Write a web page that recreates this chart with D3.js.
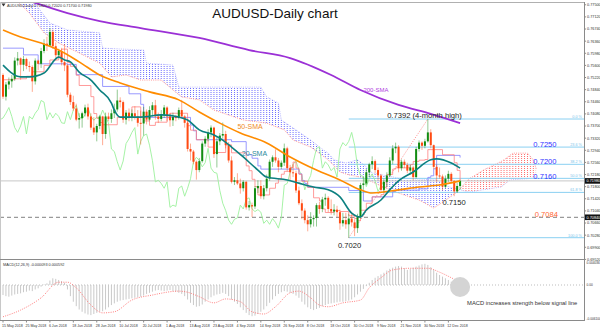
<!DOCTYPE html>
<html>
<head>
<meta charset="utf-8">
<script src="https://cdn.jsdelivr.net/npm/d3@7"></script>
<style>
  body { margin: 0; background: #fff; }
  svg { display: block; font-family: "Liberation Sans", Arial, sans-serif; }
</style>
</head>
<body>
<svg id="chart" width="600" height="329"></svg>
<script>
// ---- data ----
const dateLabels = ["15 May 2018", "25 May 2018", "6 Jun 2018", "18 Jun 2018", "28 Jun 2018", "10 Jul 2018",
  "20 Jul 2018", "1 Aug 2018", "13 Aug 2018", "23 Aug 2018", "4 Sep 2018", "14 Sep 2018", "26 Sep 2018",
  "8 Oct 2018", "18 Oct 2018", "30 Oct 2018", "9 Nov 2018", "21 Nov 2018", "30 Nov 2018", "12 Dec 2018"];
const dateLabelBars = [0, 8, 16, 24, 32, 40, 48, 56, 64, 72, 80, 88, 96, 104, 112, 120, 128, 136, 144, 152];

// daily candles [open, high, low, close]
const candles = [
  [.7530,.7535,.7455,.7462],[.7462,.7508,.7450,.7500],[.7500,.7522,.7485,.7510],[.7510,.7530,.7490,.7518],
  [.7518,.7585,.7512,.7575],[.7575,.7602,.7560,.7582],[.7582,.7585,.7515,.7562],[.7562,.7590,.7542,.7580],
  [.7580,.7584,.7548,.7558],[.7558,.7572,.7540,.7555],[.7555,.7560,.7477,.7510],[.7510,.7582,.7500,.7575],
  [.7575,.7578,.7545,.7565],[.7565,.7615,.7552,.7605],[.7605,.7642,.7598,.7628],[.7628,.7650,.7605,.7622],
  [.7622,.7677,.7618,.7665],[.7665,.7672,.7612,.7620],[.7620,.7632,.7575,.7592],[.7592,.7612,.7585,.7605],
  [.7605,.7615,.7560,.7570],[.7570,.7627,.7542,.7560],[.7560,.7565,.7460,.7468],[.7468,.7475,.7436,.7445],
  [.7445,.7465,.7418,.7425],[.7425,.7440,.7385,.7390],[.7390,.7410,.7362,.7395],[.7395,.7415,.7365,.7410],
  [.7410,.7437,.7400,.7428],[.7428,.7440,.7390,.7400],[.7400,.7410,.7358,.7365],[.7365,.7398,.7342,.7350],
  [.7350,.7377,.7322,.7370],[.7370,.7405,.7360,.7400],[.7400,.7402,.7310,.7345],[.7345,.7412,.7330,.7400],
  [.7400,.7412,.7385,.7392],[.7392,.7422,.7380,.7410],[.7410,.7440,.7395,.7422],[.7422,.7484,.7415,.7450],
  [.7450,.7460,.7428,.7445],[.7445,.7450,.7380,.7390],[.7390,.7420,.7375,.7412],[.7412,.7425,.7385,.7395],
  [.7395,.7422,.7385,.7410],[.7410,.7432,.7390,.7400],[.7400,.7420,.7368,.7380],[.7380,.7418,.7312,.7378],
  [.7378,.7430,.7340,.7415],[.7415,.7422,.7375,.7390],[.7390,.7432,.7385,.7420],[.7420,.7445,.7400,.7435],
  [.7435,.7452,.7390,.7400],[.7400,.7412,.7380,.7392],[.7392,.7420,.7385,.7405],[.7405,.7436,.7395,.7428],
  [.7428,.7432,.7385,.7400],[.7400,.7410,.7368,.7388],[.7388,.7412,.7370,.7398],[.7398,.7405,.7385,.7395],
  [.7395,.7428,.7390,.7420],[.7420,.7452,.7395,.7400],[.7400,.7405,.7365,.7380],[.7380,.7385,.7290,.7298],
  [.7298,.7315,.7262,.7290],[.7290,.7295,.7250,.7258],[.7258,.7262,.7202,.7232],[.7232,.7270,.7225,.7260],
  [.7260,.7322,.7255,.7315],[.7315,.7338,.7305,.7330],[.7330,.7360,.7322,.7350],[.7350,.7372,.7335,.7365],
  [.7365,.7368,.7270,.7282],[.7282,.7335,.7240,.7322],[.7322,.7348,.7310,.7340],[.7340,.7381,.7330,.7345],
  [.7345,.7355,.7300,.7310],[.7310,.7320,.7255,.7262],[.7262,.7275,.7190,.7195],[.7195,.7210,.7185,.7200],
  [.7200,.7222,.7185,.7190],[.7190,.7205,.7158,.7175],[.7175,.7200,.7165,.7195],[.7195,.7198,.7108,.7115],
  [.7115,.7135,.7105,.7122],[.7122,.7130,.7085,.7118],[.7118,.7182,.7110,.7175],[.7175,.7200,.7160,.7182],
  [.7182,.7200,.7142,.7150],[.7150,.7185,.7140,.7175],[.7175,.7218,.7165,.7205],[.7205,.7265,.7198,.7258],
  [.7258,.7278,.7242,.7272],[.7272,.7297,.7255,.7262],[.7262,.7270,.7225,.7242],[.7242,.7262,.7235,.7255],
  [.7255,.7315,.7245,.7300],[.7300,.7305,.7228,.7238],[.7238,.7248,.7200,.7225],[.7225,.7250,.7210,.7222],
  [.7222,.7230,.7160,.7168],[.7168,.7180,.7122,.7128],[.7128,.7140,.7078,.7105],[.7105,.7112,.7065,.7075],
  [.7075,.7090,.7040,.7062],[.7062,.7100,.7052,.7078],[.7078,.7090,.7055,.7082],[.7082,.7128,.7055,.7122],
  [.7122,.7132,.7095,.7110],[.7110,.7148,.7100,.7140],[.7140,.7158,.7120,.7145],[.7145,.7150,.7100,.7110],
  [.7110,.7140,.7092,.7102],[.7102,.7125,.7090,.7108],[.7108,.7120,.7085,.7100],[.7100,.7108,.7045,.7065],
  [.7065,.7098,.7055,.7075],[.7075,.7098,.7048,.7062],[.7062,.7095,.7020,.7080],[.7080,.7098,.7055,.7068],
  [.7068,.7078,.7025,.7050],[.7050,.7095,.7035,.7085],[.7085,.7192,.7080,.7185],[.7185,.7210,.7170,.7190],
  [.7190,.7235,.7185,.7225],[.7225,.7255,.7210,.7250],[.7250,.7275,.7235,.7260],[.7260,.7265,.7222,.7232],
  [.7232,.7240,.7200,.7215],[.7215,.7220,.7164,.7170],[.7170,.7205,.7160,.7195],[.7195,.7225,.7180,.7215],
  [.7215,.7272,.7210,.7262],[.7262,.7310,.7250,.7300],[.7300,.7318,.7285,.7305],[.7305,.7310,.7225,.7238],
  [.7238,.7265,.7230,.7258],[.7258,.7265,.7238,.7248],[.7248,.7255,.7222,.7230],[.7230,.7248,.7218,.7240],
  [.7240,.7245,.7200,.7210],[.7210,.7305,.7205,.7298],[.7298,.7325,.7290,.7318],[.7318,.7322,.7295,.7308],
  [.7308,.7330,.7300,.7322],[.7322,.7392,.7318,.7350],[.7350,.7360,.7300,.7310],[.7310,.7312,.7235,.7242],
  [.7242,.7250,.7195,.7215],[.7215,.7240,.7205,.7212],[.7212,.7218,.7168,.7180],[.7180,.7215,.7175,.7205],
  [.7205,.7230,.7195,.7220],[.7220,.7225,.7190,.7198],[.7198,.7200,.7150,.7165],[.7165,.7192,.7160,.7182],
  [.7182,.7202,.7170,.7198]
];

// moving averages [bar, price]
const sma200 = [[0,.7790],[10,.7759],[22,.7724],[33,.7699],[47,.7677],[67,.7646],[84,.7608],[98,.7583],
  [112,.7530],[122,.7483],[135,.7436],[146,.7408],[156,.7379]];
const sma50 = [[0,.7671],[6,.7649],[13,.7630],[19,.7608],[26,.7571],[33,.7530],[40,.7505],[50,.7477],
  [60,.7452],[67,.7414],[74,.7379],[81,.7348],[90,.7317],[98,.7273],[107,.7232],[115,.7201],[122,.7170],
  [126,.7160],[135,.7170],[142,.7179],[149,.7185],[156,.7198]];
const sma20 = [[0,.7561],[6,.7524],[9,.7524],[14,.7536],[19,.7586],[21,.7577],[23,.7571],[26,.7539],
  [30,.7514],[33,.7483],[37,.7442],[38,.7420],[40,.7398],[47,.7398],[54,.7405],[60,.7398],[63,.7389],
  [67,.7358],[72,.7342],[75,.7326],[78,.7304],[82,.7273],[87,.7232],[90,.7210],[97,.7201],[101,.7191],
  [106,.7179],[111,.7170],[115,.7148],[119,.7097],[122,.7085],[124,.7107],[129,.7138],[132,.7170],
  [135,.7198],[140,.7226],[146,.7264],[148,.7267],[153,.7254],[156,.7238]];

// ichimoku lines [bar, price]
const tenkan = [[0,.7515],[4,.7518],[8,.7526],[10,.7540],[14,.7560],[16,.7577],[19,.7589],[20,.7611],
  [22,.7569],[23,.7557],[25,.7529],[26,.7497],[30,.7462],[31,.7409],[32,.7394],[33,.7381],[34,.7374],
  [39,.7397],[44,.7430],[47,.7398],[48,.7386],[50,.7372],[52,.7382],[56,.7396],[57,.7410],[63,.7371],
  [64,.7357],[66,.7327],[70,.7304],[72,.7287],[76,.7311],[78,.7286],[83,.7245],[84,.7230],[85,.7203],
  [86,.7180],[87,.7154],[91,.7175],[93,.7191],[94,.7204],[95,.7219],[96,.7228],[98,.7240],[99,.7257],
  [100,.7238],[101,.7219],[102,.7197],[104,.7178],[106,.7145],[108,.7135],[109,.7110],[110,.7099],
  [113,.7105],[115,.7102],[118,.7089],[120,.7080],[121,.7073],[122,.7106],[124,.7128],[126,.7148],
  [129,.7155],[130,.7178],[131,.7218],[133,.7235],[134,.7239],[139,.7249],[140,.7259],[142,.7263],
  [144,.7265],[145,.7296],[150,.7280],[154,.7255],[155,.7231],[156,.7200]];
const kijun = [[0,.7614],[7,.7593],[12,.7565],[22,.7563],[25,.7531],[34,.7494],[43,.7471],[47,.7438],
  [48,.7397],[64,.7373],[65,.7355],[66,.7327],[78,.7321],[83,.7280],[85,.7269],[87,.7245],[88,.7235],
  [101,.7220],[102,.7199],[103,.7190],[104,.7178],[118,.7168],[123,.7135],[126,.7148],[133,.7165],
  [134,.7169],[142,.7173],[145,.7209],[146,.7214],[147,.7236],[148,.7278],[156,.7271]];
const spanA = [[0,.7800],[5,.7760],[9,.7724],[14,.7662],[19,.7630],[26,.7599],[33,.7567],[37,.7524],
  [42,.7530],[47,.7514],[54,.7514],[58,.7483],[61,.7461],[67,.7452],[72,.7420],[82,.7389],[90,.7379],
  [96,.7358],[99,.7326],[105,.7304],[111,.7264],[115,.7226],[118,.7217],[122,.7210],[126,.7195],
  [130,.7178],[135,.7160],[142,.7138],[147,.7113],[150,.7131],[155,.7163],[159,.7204],[164,.7232],
  [169,.7254],[171,.7264],[174,.7285],[179,.7285],[181,.7264],[182,.7236]];
const spanB = [[0,.7850],[10,.7765],[16,.7693],[22,.7671],[33,.7662],[34,.7614],[48,.7608],[49,.7567],
  [58,.7561],[60,.7492],[88,.7492],[90,.7461],[94,.7442],[95,.7389],[100,.7358],[105,.7326],[108,.7304],
  [111,.7285],[113,.7264],[117,.7254],[121,.7264],[124,.7242],[126,.7223],[135,.7207],[148,.7201],
  [152,.7180],[159,.7163],[170,.7179],[173,.7201],[182,.7207]];
const chikouShift = 26;

// fibonacci retracement 0.7020 low -> 0.7392 high
const fibLevels = [0.7392, 0.7304, 0.7250, 0.7206, 0.7162, 0.7020];
const fibNames = ["0.0 %", "23.6 %", "38.2 %", "50.0 %", "61.8 %", "100.0 %"];
const fibLowBar = 118, fibHighBar = 145;
const lastPrice = 0.7198, supportPrice = 0.7084;

const priceTicks = [0.7750, 0.7712, 0.7674, 0.7636, 0.7598, 0.7560, 0.7522, 0.7484, 0.7446, 0.7408,
  0.7370, 0.7332, 0.7294, 0.7256, 0.7218, 0.7180, 0.7142, 0.7104, 0.7066, 0.7028, 0.6990, 0.6952];

// MACD(12,26,9)
const macdHist = [
  -0.0018,-0.0020,-0.0021,-0.0019,-0.0017,-0.0016,-0.0015,
  -0.0013,-0.0012,-0.0010,-0.0011,-0.0008,-0.0006,-0.0003,0.0001,0.0003,
  0.0008,0.0012,0.0011,0.0009,0.0007,
  0.0004,-0.0008,-0.0020,-0.0030,-0.0038,-0.0044,-0.0048,-0.0051,-0.0053,-0.0054,-0.0052,-0.0050,
  -0.0048,-0.0047,-0.0044,-0.0040,-0.0036,-0.0033,-0.0030,-0.0028,-0.0027,-0.0026,-0.0025,-0.0024,-0.0023,-0.0022,
  -0.0021,-0.0019,-0.0016,-0.0014,-0.0012,-0.0010,-0.0009,-0.0010,-0.0011,-0.0010,-0.0009,-0.0011,-0.0012,-0.0014,
  -0.0016,-0.0020,-0.0026,-0.0032,-0.0036,-0.0039,-0.0038,-0.0035,-0.0030,-0.0026,-0.0022,
  -0.0019,-0.0017,-0.0016,-0.0014,-0.0016,-0.0020,-0.0026,-0.0030,-0.0034,
  -0.0040,-0.0045,-0.0050,-0.0054,-0.0056,-0.0055,-0.0052,-0.0048,-0.0044,
  -0.0038,-0.0032,-0.0026,-0.0020,-0.0016,-0.0013,-0.0011,-0.0012,-0.0014,-0.0016,-0.0019,-0.0023,
  -0.0030,-0.0035,-0.0040,-0.0043,-0.0045,-0.0043,-0.0041,
  -0.0038,-0.0036,-0.0034,-0.0033,-0.0032,-0.0031,-0.0030,-0.0030,-0.0029,-0.0028,-0.0026,-0.0022,-0.0017,-0.0012,-0.0007,-0.0002,
  0.0004,0.0009,0.0013,0.0016,0.0019,
  0.0022,0.0026,0.0029,0.0031,0.0033,0.0034,0.0033,0.0030,0.0027,0.0029,
  0.0031,0.0033,0.0035,0.0037,0.0038,0.0036,0.0032,0.0027,0.0022,
  0.0018,0.0015,0.0012,0.0009,0.0006,0.0003,0.0001,-0.0001
];
const macdSignal = [[0,-.0057],[6,-.0045],[13,-.0023],[19,.0005],[22,.0005],[25,-.0005],[30,-.0036],
  [34,-.0050],[38,-.0048],[44,-.0027],[51,-.0018],[60,-.0011],[63,-.0013],[67,-.0021],[72,-.0032],
  [76,-.0025],[81,-.0030],[85,-.0048],[89,-.0052],[93,-.0039],[98,-.0014],[101,-.0011],[105,-.0023],
  [108,-.0036],[111,-.0039],[116,-.0032],[122,-.0027],[125,-.0005],[129,.0013],[133,.0027],[139,.0030],
  [145,.0030],[149,.0023],[153,.0013],[156,.0005]];
const macdTicks = [0.004036, 0, -0.0061];
const macdTickText = ["0.004036", "0.00", "-0.006100"];

// ---- layout ----
const plotR = 584, mainT = 2, mainB = 259, macdT = 261, macdB = 320;
const x = d3.scaleLinear().domain([0, 200]).range([3, 3 + 200 * 2.93]);
const y = d3.scaleLinear().domain([0.7020, 0.7392]).range([237.7, 119]);
const ym = d3.scaleLinear().domain([0, 0.004036]).range([285, 262.5]);

const svg = d3.select("#chart");
const defs = svg.append("defs");
defs.append("clipPath").attr("id", "clipMain").append("rect")
  .attr("x", 0).attr("y", mainT).attr("width", plotR).attr("height", mainB - mainT);
defs.append("clipPath").attr("id", "clipMacd").append("rect")
  .attr("x", 0).attr("y", macdT).attr("width", plotR).attr("height", macdB - macdT);

[["dotsBlue", "#6a6aff"], ["dotsRed", "#ff6a6a"]].forEach(([id, col]) => {
  const p = defs.append("pattern").attr("id", id).attr("patternUnits", "userSpaceOnUse")
    .attr("width", 2.93).attr("height", 2).attr("patternTransform", "translate(2.5,0)");
  p.append("rect").attr("width", 1).attr("height", 1).attr("fill", col);
});

const line = d3.line().x(d => x(d[0])).y(d => y(d[1]));

// cloud: band between the spans, blue where B is on top, red where A is on top
const lastA = spanA[spanA.length - 1][0];
const bandPath = line(spanA.concat(spanB.slice().reverse())) + "Z";
defs.append("clipPath").attr("id", "aboveA").append("path")
  .attr("d", line([[spanA[0][0], 0.80]].concat(spanA, [[lastA, 0.80]])) + "Z");
defs.append("clipPath").attr("id", "belowA").append("path")
  .attr("d", line([[spanA[0][0], 0.68]].concat(spanA, [[lastA, 0.68]])) + "Z");

const main = svg.append("g").attr("clip-path", "url(#clipMain)");

main.append("g").attr("clip-path", "url(#aboveA)")
  .append("path").attr("d", bandPath).attr("fill", "url(#dotsBlue)");
main.append("g").attr("clip-path", "url(#belowA)")
  .append("path").attr("d", bandPath).attr("fill", "url(#dotsRed)");
main.append("path").attr("d", line(spanA)).attr("fill", "none")
  .attr("stroke", "#ff7f7f").attr("stroke-width", 0.8).attr("stroke-dasharray", "1,1.2");
main.append("path").attr("d", line(spanB)).attr("fill", "none")
  .attr("stroke", "#a8a8ff").attr("stroke-width", 0.7).attr("stroke-dasharray", "1,1.2");

// horizontal reference lines
main.append("line").attr("x1", 0).attr("x2", plotR)
  .attr("y1", y(lastPrice)).attr("y2", y(lastPrice)).attr("stroke", "#c8c8c8").attr("stroke-width", 1);
main.append("line").attr("x1", 0).attr("x2", plotR)
  .attr("y1", y(supportPrice)).attr("y2", y(supportPrice))
  .attr("stroke", "#9a9a9a").attr("stroke-width", 1.2).attr("stroke-dasharray", "4,3");

// fibonacci
main.selectAll(".fib").data(fibLevels).join("line").attr("class", "fib")
  .attr("x1", x(fibLowBar)).attr("x2", plotR)
  .attr("y1", d => y(d)).attr("y2", d => y(d))
  .attr("stroke", "#8ad0f2").attr("stroke-width", 1);
main.append("line")
  .attr("x1", x(fibLowBar)).attr("y1", y(fibLevels[5]))
  .attr("x2", x(fibHighBar)).attr("y2", y(fibLevels[0]))
  .attr("stroke", "#ff6f6f").attr("stroke-width", 0.8).attr("stroke-dasharray", "1,1.5");
svg.selectAll(".fibName").data(fibLevels).join("text").attr("class", "fibName")
  .attr("x", plotR - 2).attr("y", d => y(d) - 1).attr("text-anchor", "end")
  .attr("font-size", 3.8).attr("fill", "#7cc4ea").text((d, i) => fibNames[i]);

// chikou span = closes shifted back
main.append("path")
  .attr("d", line(candles.map((c, i) => [i - chikouShift, c[3]])))
  .attr("fill", "none").attr("stroke", "#9cf09c").attr("stroke-width", 0.9);

// tenkan / kijun
const step = d3.line().x(d => x(d[0])).y(d => y(d[1])).curve(d3.curveStepAfter);
main.append("path").attr("d", step(kijun)).attr("fill", "none")
  .attr("stroke", "#8080ff").attr("stroke-width", 1).attr("opacity", 0.8);
main.append("path").attr("d", step(tenkan)).attr("fill", "none")
  .attr("stroke", "#ff7a7a").attr("stroke-width", 1).attr("opacity", 0.75);

// candles
const cg = main.append("g");
candles.forEach((c, i) => {
  const up = c[3] >= c[0];
  const col = up ? "#128c12" : "#ff4a12";
  cg.append("line").attr("x1", x(i)).attr("x2", x(i)).attr("y1", y(c[1])).attr("y2", y(c[2]))
    .attr("stroke", col).attr("stroke-width", 1).attr("opacity", 0.45);
  const top = y(Math.max(c[0], c[3])), bot = y(Math.min(c[0], c[3]));
  cg.append("rect").attr("x", x(i) - 1).attr("y", top).attr("width", 2)
    .attr("height", Math.max(1, bot - top)).attr("fill", col);
});

// SMAs
const smooth = d3.line().x(d => x(d[0])).y(d => y(d[1])).curve(d3.curveMonotoneX);
main.append("path").attr("d", smooth(sma200)).attr("fill", "none").attr("stroke", "#9b30d6").attr("stroke-width", 1.8);
main.append("path").attr("d", smooth(sma50)).attr("fill", "none").attr("stroke", "#ff8c00").attr("stroke-width", 1.6);
main.append("path").attr("d", smooth(sma20)).attr("fill", "none").attr("stroke", "#0d8080").attr("stroke-width", 1.6);

// annotations
const notes = [
  {t: "0.7392 (4-month high)", bx: 145, px: fibLevels[0], dx: 34, dy: -1.5, a: "end", s: 7.6, c: "#222"},
  {t: "0.7250", bx: 181, px: fibLevels[1], dx: 0, dy: 0, a: "start", s: 7.6, c: "#3434ff"},
  {t: "0.7200", bx: 181, px: fibLevels[2], dx: 0, dy: 0, a: "start", s: 7.6, c: "#3434ff"},
  {t: "0.7160", bx: 181, px: fibLevels[3], dx: 0, dy: 0.5, a: "start", s: 7.6, c: "#3434ff"},
  {t: "0.7084", bx: 181.5, px: supportPrice, dx: 0, dy: -0.5, a: "start", s: 7.6, c: "#ff6633"},
  {t: "0.7150", bx: 150, px: 0.7150, dx: 0, dy: 9, a: "start", s: 7.6, c: "#222"},
  {t: "0.7020", bx: 114.3, px: fibLevels[5], dx: 0, dy: 10, a: "start", s: 7.6, c: "#222"},
  {t: "200-SMA", bx: 123, px: 0.7476, dx: 0, dy: 0, a: "start", s: 6, c: "#b040e0"},
  {t: "50-SMA", bx: 80, px: 0.7361, dx: 0, dy: 0, a: "start", s: 7, c: "#f08a1c"},
  {t: "20-SMA", bx: 81.5, px: 0.7276, dx: 0, dy: 0, a: "start", s: 7, c: "#2a8c9c"}
];
svg.selectAll(".note").data(notes).join("text").attr("class", "note")
  .attr("x", d => x(d.bx) + d.dx).attr("y", d => y(d.px) + d.dy)
  .attr("text-anchor", d => d.a).attr("font-size", d => d.s).attr("fill", d => d.c).text(d => d.t);

svg.append("text").attr("x", 275).attr("y", 18).attr("text-anchor", "middle")
  .attr("font-size", 13.5).attr("fill", "#111").text("AUDUSD-Daily chart");
svg.append("path").attr("d", "M1.5,3.5 L5.5,3.5 L3.5,6.5 Z").attr("fill", "#333");
svg.append("text").attr("x", 7).attr("y", 6.5).attr("font-size", 3.8).attr("fill", "#333")
  .text("AUDUSD,Daily  0.71820 0.72020 0.71700 0.71980");

// ---- MACD panel ----
const macd = svg.append("g").attr("clip-path", "url(#clipMacd)");
macd.append("line").attr("x1", 0).attr("x2", plotR).attr("y1", ym(0)).attr("y2", ym(0))
  .attr("stroke", "#bdbdbd").attr("stroke-width", 1).attr("stroke-dasharray", "1,2");
macd.selectAll(".hist").data(macdHist).join("line").attr("class", "hist")
  .attr("x1", (d, i) => x(i)).attr("x2", (d, i) => x(i))
  .attr("y1", ym(0)).attr("y2", d => ym(d))
  .attr("stroke", "#c9c9c9").attr("stroke-width", 1);
macd.append("path").attr("d", d3.line().x(d => x(d[0])).y(d => ym(d[1])).curve(d3.curveMonotoneX)(macdSignal))
  .attr("fill", "none").attr("stroke", "#ff7070").attr("stroke-width", 0.9).attr("stroke-dasharray", "1,1.3");
macd.append("circle").attr("cx", x(156)).attr("cy", ym(0) + 2).attr("r", 10).attr("fill", "#d4d4d4");
svg.append("text").attr("x", 3).attr("y", 265.5).attr("font-size", 3.8).attr("fill", "#333")
  .text("MACD(12,26,9) -0.000093 0.000592");
svg.append("text").attr("x", x(156) + 7).attr("y", 305).attr("font-size", 5.8).attr("fill", "#333")
  .text("MACD increases strength below signal line");

// ---- frames and axes ----
svg.append("line").attr("x1", 0).attr("x2", plotR).attr("y1", mainT + 0.5).attr("y2", mainT + 0.5).attr("stroke", "#b0b0b0");
svg.append("line").attr("x1", 0.5).attr("x2", 0.5).attr("y1", mainT).attr("y2", macdB).attr("stroke", "#c8c8c8");
svg.append("line").attr("x1", 0).attr("x2", plotR).attr("y1", mainB + 0.5).attr("y2", mainB + 0.5).attr("stroke", "#8a8a8a");
svg.append("line").attr("x1", 0).attr("x2", plotR).attr("y1", macdB + 0.5).attr("y2", macdB + 0.5).attr("stroke", "#8a8a8a");
svg.append("line").attr("x1", plotR + 0.5).attr("x2", plotR + 0.5).attr("y1", mainT).attr("y2", macdB + 1).attr("stroke", "#8a8a8a");

const boxes = [lastPrice, supportPrice];
const shownTicks = priceTicks.filter(p => boxes.every(b => Math.abs(y(p) - y(b)) > 4.5));
svg.selectAll(".ptick").data(shownTicks).join("line").attr("class", "ptick")
  .attr("x1", plotR).attr("x2", plotR + 2).attr("y1", d => y(d)).attr("y2", d => y(d)).attr("stroke", "#8a8a8a");
svg.selectAll(".plab").data(shownTicks).join("text").attr("class", "plab")
  .attr("x", plotR + 3).attr("y", d => y(d) + 1.4).attr("font-size", 3.8).attr("fill", "#333")
  .text(d => d.toFixed(5));
boxes.forEach(b => {
  svg.append("rect").attr("x", plotR + 1).attr("y", y(b) - 2.8).attr("width", 15).attr("height", 5.6).attr("fill", "#111");
  svg.append("text").attr("x", plotR + 2.5).attr("y", y(b) + 1.4).attr("font-size", 3.8).attr("fill", "#fff").text(b.toFixed(5));
});

svg.selectAll(".mlab").data(macdTicks).join("text").attr("class", "mlab")
  .attr("x", plotR + 2.5).attr("y", d => ym(d) + 1.4).attr("font-size", 3.2).attr("fill", "#333")
  .text((d, i) => macdTickText[i]);

svg.selectAll(".dtick").data(dateLabelBars).join("line").attr("class", "dtick")
  .attr("x1", d => x(d)).attr("x2", d => x(d)).attr("y1", macdB).attr("y2", macdB + 2.5).attr("stroke", "#8a8a8a");
svg.selectAll(".dlab").data(dateLabelBars).join("text").attr("class", "dlab")
  .attr("x", d => x(d) - 1).attr("y", macdB + 6.5).attr("font-size", 3.6).attr("fill", "#333")
  .text((d, i) => dateLabels[i]);
</script>
</body>
</html>
